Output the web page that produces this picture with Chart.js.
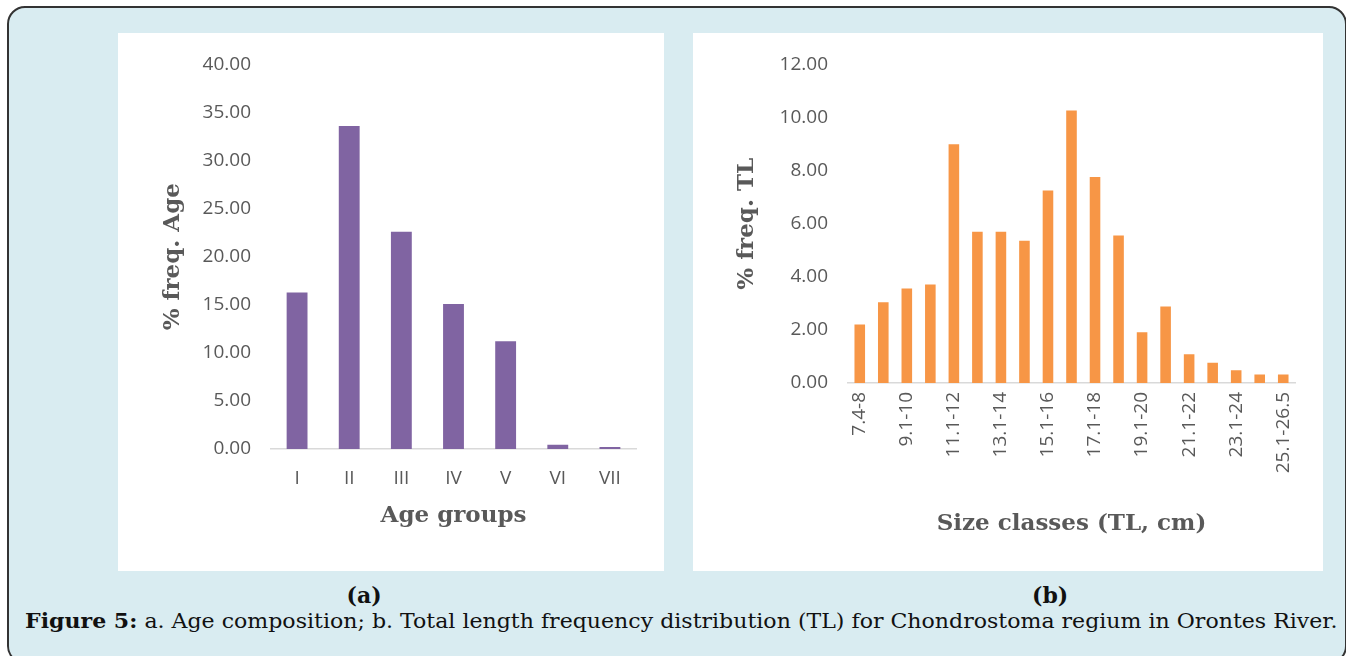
<!DOCTYPE html>
<html>
<head>
<meta charset="utf-8">
<script src="https://cdn.jsdelivr.net/npm/chart.js@4.4.0/dist/chart.umd.min.js"></script>
<style>
  body { margin: 0; background: #fff; width: 1346px; height: 656px; overflow: hidden; position: relative; }
  .frame { position: absolute; left: 7px; top: 6px; width: 1336px; height: 654px; border: 2px solid #333; border-radius: 18px; background: #d9ecf1; }
  .panel { position: absolute; top: 33px; height: 538px; background: #fff; }
  .cap { position: absolute; font-family: "DejaVu Serif", serif; color: #111; white-space: nowrap; }
</style>
</head>
<body>
<div class="frame"></div>
<div class="panel" style="left:118px;width:546px"><canvas id="ageChart" width="546" height="538"></canvas></div>
<div class="panel" style="left:693px;width:630px"><canvas id="sizeChart" width="630" height="538"></canvas></div>
<div class="cap" id="capA" style="font-weight:bold;font-size:22px;top:582px">(a)</div>
<div class="cap" id="capB" style="font-weight:bold;font-size:22px;top:582px">(b)</div>
<div class="cap" id="capMain" style="font-size:20.5px;top:609px;left:25px;transform-origin:0 0"><b>Figure 5:</b> a. Age composition; b. Total length frequency distribution (TL) for Chondrostoma regium in Orontes River.</div>
<script>
// (a) age composition
const ageGroups = ['I', 'II', 'III', 'IV', 'V', 'VI', 'VII'];
const ageFreq = [16.27, 33.6, 22.6, 15.07, 11.2, 0.45, 0.2];
const ageTicks = { min: 0, max: 40, step: 5 };

// (b) total length frequency
const sizeClasses = ['7.4-8', '8.1-9', '9.1-10', '10.1-11', '11.1-12', '12.1-13', '13.1-14', '14.1-15',
  '15.1-16', '16.1-17', '17.1-18', '18.1-19', '19.1-20', '20.1-21', '21.1-22', '22.1-23',
  '23.1-24', '24.1-25', '25.1-26.5'];
const sizeFreq = [2.20, 3.04, 3.56, 3.71, 8.99, 5.70, 5.70, 5.36, 7.25, 10.26, 7.76, 5.56,
  1.91, 2.88, 1.08, 0.76, 0.48, 0.32, 0.32];
const sizeTicks = { min: 0, max: 12, step: 2 };

const tickFont = { family: 'Open Sans', size: 19 };
const titleFont = { family: 'DejaVu Serif', size: 23, weight: 'bold' };
const grey = '#595959';

function makeChart(id, labels, values, color, barPct, yt, yTitle, xTitle, lay) {
  return new Chart(document.getElementById(id), {
    type: 'bar',
    data: {
      labels: labels,
      datasets: [{ data: values, backgroundColor: color, categoryPercentage: 1, barPercentage: barPct }]
    },
    options: {
      responsive: false,
      animation: false,
      layout: { padding: lay.padding },
      plugins: { legend: { display: false }, tooltip: { enabled: false } },
      scales: {
        x: {
          grid: { display: false, drawTicks: false },
          border: { display: true, color: '#d9d9d9', width: 1.5 },
          ticks: Object.assign({ color: grey, font: tickFont, padding: lay.xPad, autoSkip: false }, lay.xTicks || {}),
          title: { display: true, text: xTitle, color: grey, font: titleFont, padding: 0 },
          afterFit: s => { s.height = lay.xHeight; }
        },
        y: {
          min: yt.min, max: yt.max,
          grid: { display: false, drawTicks: false },
          border: { display: false },
          ticks: { stepSize: yt.step, color: grey, font: tickFont, padding: 20, callback: v => v.toFixed(2) },
          title: { display: true, text: yTitle, color: grey, font: titleFont, padding: 0 },
          afterFit: s => { s.width = lay.yWidth; }
        }
      }
    }
  });
}

makeChart('ageChart', ageGroups, ageFreq, '#8064a2', 0.4, ageTicks, '% freq. Age', 'Age groups', {
  padding: { left: 41, top: 27, right: 28, bottom: 41 }, yWidth: 112, xHeight: 81, xPad: 18
});

makeChart('sizeChart', sizeClasses, sizeFreq, '#f79646', 0.45, sizeTicks, '% freq. TL', 'Size classes (TL, cm)', {
  padding: { left: 40, top: 28, right: 28, bottom: 33 }, yWidth: 115, xHeight: 155, xPad: 9,
  xTicks: { minRotation: 90, maxRotation: 90, callback: (v, i) => i % 2 === 0 ? sizeClasses[i] : '' }
});

// captions: centre labels, stretch main line to the reference width
function centre(id, cx) {
  const el = document.getElementById(id);
  el.style.left = (cx - el.offsetWidth / 2) + 'px';
}
centre('capA', 364);
centre('capB', 1050);
const cap = document.getElementById('capMain');
cap.style.transform = 'scaleX(' + (1313 / cap.offsetWidth) + ')';
</script>
</body>
</html>
